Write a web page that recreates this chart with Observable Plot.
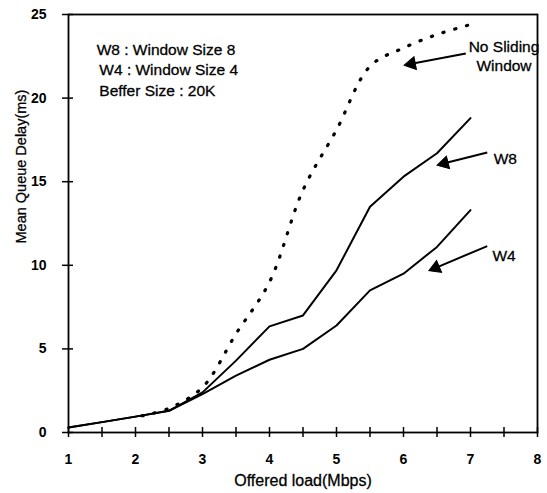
<!DOCTYPE html>
<html><head><meta charset="utf-8">
<script src="https://cdn.jsdelivr.net/npm/d3@7"></script>
<script src="https://cdn.jsdelivr.net/npm/@observablehq/plot@0.6"></script>
<style>
body{margin:0;background:#fff}
svg{font-family:"Liberation Sans",Arial,sans-serif}
</style>
</head><body><div id="chart"></div>
<script>
// Offered load (Mbps)
const loads = [1, 1.5, 2, 2.5, 3, 3.5, 4, 4.5, 5, 5.5, 6, 6.5, 7];
// Mean queue delay (ms)
const w4 = [0.3, 0.62, 0.95, 1.3, 2.3, 3.4, 4.35, 5.0, 6.4, 8.5, 9.5, 11.1, 13.3];
const w8 = [0.3, 0.62, 0.95, 1.3, 2.4, 4.3, 6.35, 7.0, 9.7, 13.5, 15.3, 16.7, 18.8];
const noSlidingLoads = [2.1, 2.5, 3, 3.5, 4, 4.5, 5, 5.5, 6, 6.5, 7];
const noSliding = [1.0, 1.45, 2.7, 5.9, 9.0, 14.5, 18.1, 21.9, 23.0, 23.8, 24.4];

const xTicks = [1, 1.5, 2, 2.5, 3, 3.5, 4, 4.5, 5, 5.5, 6, 6.5, 7, 7.5, 8];
const xTickLabels = [1, 2, 3, 4, 5, 6, 7, 8];
const yTicks = [0, 5, 10, 15, 20, 25];

const legendLines = ["W8 : Window Size 8", "W4 : Window Size 4", "Beffer Size : 20K"];
const legendX = [1.42, 1.46, 1.46];
const legendY = [22.9, 21.65, 20.45];

const arrowLabels = ["No Sliding\nWindow", "W8", "W4"];
const labelX = [7.5, 7.52, 7.5];
const labelY = [22.55, 16.4, 10.65];
const arrowTailX = [6.93, 7.25, 7.25];
const arrowTailY = [22.67, 16.75, 11.15];
const arrowHeadX = [6.12, 6.61, 6.48];
const arrowHeadY = [22.05, 16.1, 9.85];

const W = 547, H = 493, mL = 68, mR = 10, mT = 14, mB = 61;
const kx = (W - mL - mR) / 7, ky = (H - mT - mB) / 25;

const series = [
  ...loads.map((x, i) => ({x, y: w4[i], s: "W4"})),
  ...loads.map((x, i) => ({x, y: w8[i], s: "W8"}))
];
const dotted = noSlidingLoads.map((x, i) => ({x, y: noSliding[i]}));
const arrows = arrowLabels.map((label, i) => {
  const dx = (arrowHeadX[i] - arrowTailX[i]) * kx;
  const dy = -(arrowHeadY[i] - arrowTailY[i]) * ky;
  return {label, lx: labelX[i], ly: labelY[i], x1: arrowTailX[i], y1: arrowTailY[i],
    x2: arrowHeadX[i], y2: arrowHeadY[i], rot: Math.atan2(dx, -dy) * 180 / Math.PI};
});

const chart = Plot.plot({
  width: W, height: H,
  marginLeft: mL, marginRight: mR, marginTop: mT, marginBottom: mB,
  style: {background: "#fff", color: "#000", fontFamily: "Liberation Sans, Arial, sans-serif"},
  x: {domain: [1, 8]},
  y: {domain: [0, 25]},
  marks: [
    Plot.frame({stroke: "#000", strokeWidth: 1.8}),
    Plot.ruleX(xTicks, {x: d => d, y1: 0, y2: 0, insetTop: -5, insetBottom: -5, stroke: "#000", strokeWidth: 1.5}),
    Plot.ruleY(yTicks, {y: d => d, x1: 1, x2: 1, insetLeft: -6, insetRight: -5, stroke: "#000", strokeWidth: 1.5}),
    Plot.axisX(xTickLabels, {tickSize: 0, tickPadding: 22, fontSize: 14, fontWeight: "bold", label: null}),
    Plot.axisY(yTicks, {tickSize: 0, tickPadding: 22, fontSize: 14, fontWeight: "bold", label: null}),
    Plot.text(["Offered load(Mbps)"], {frameAnchor: "bottom", dy: 53, fontSize: 16, fill: "#000", stroke: "#000", strokeWidth: 0.3}),
    Plot.text(["Mean Queue Delay(ms)"], {frameAnchor: "left", dx: -47, dy: 20, rotate: -90, fontSize: 14.5, fill: "#000", stroke: "#000", strokeWidth: 0.3}),
    Plot.line(series, {x: "x", y: "y", z: "s", stroke: "#000", strokeWidth: 2}),
    Plot.line(dotted, {x: "x", y: "y", stroke: "#000", strokeWidth: 3.2, strokeDasharray: "1.2,11", strokeLinecap: "round", curve: "catmull-rom"}),
    Plot.text(legendLines, {x: (d, i) => legendX[i], y: (d, i) => legendY[i], textAnchor: "start", fontSize: 15.5, fill: "#000", stroke: "#000", strokeWidth: 0.3}),
    Plot.link(arrows, {x1: "x1", y1: "y1", x2: "x2", y2: "y2", stroke: "#000", strokeWidth: 2}),
    Plot.dot(arrows, {x: "x2", y: "y2", symbol: "triangle", r: 4.8, rotate: "rot", fill: "#000", stroke: "#000", strokeWidth: 1}),
    Plot.text(arrows, {x: "lx", y: "ly", text: "label", fontSize: 15.5, lineHeight: 1.25, fill: "#000", stroke: "#000", strokeWidth: 0.3})
  ]
});
document.getElementById("chart").appendChild(chart);
</script>
</body></html>
